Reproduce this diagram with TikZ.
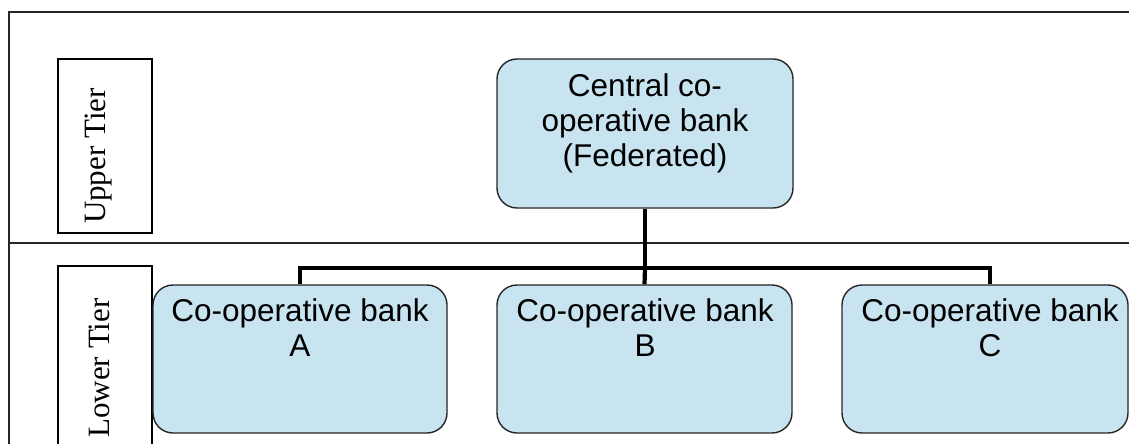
\documentclass[tikz,border=0pt]{standalone}
\usepackage{fontspec}
\setmainfont{Liberation Serif}
\newfontfamily\bankfont{Liberation Sans}
\definecolor{bankfill}{RGB}{200,228,240}
\begin{document}
\begin{tikzpicture}[x=1pt,y=-1pt,
  bank/.style={draw=black!85, line width=1.4pt, fill=bankfill, rounded corners=20pt, inner sep=0pt},
  banktext/.style={font=\bankfont\fontsize{31.5}{35}\selectfont, align=center, inner sep=0pt, anchor=north},
  tierbox/.style={draw, line width=1.4pt, inner sep=0pt},
  tiertext/.style={font=\fontsize{31}{36}\selectfont, rotate=90, inner sep=0pt},
  link/.style={line width=4.2pt},
  framerule/.style={line width=2.2pt, draw=black!85}
]
\useasboundingbox (0,0) rectangle (1129,444);

% outer frame and the tier divider
\begin{scope}
  \clip (0,0) rectangle (1129,444);
  \draw[framerule] (9,470) -- (9,12) -- (1160,12);
  \draw[framerule] (9,243) -- (1160,243);
  \draw[tierbox] (58,266) rectangle (152,470);
\end{scope}

% tier labels
\node[tierbox, minimum width=94pt, minimum height=174pt] (upperbox) at (105,146) {};
\node[tiertext] (upper) at (99,156) {Upper Tier};
\node[tiertext] (lower) at (99,368) {Lower Tier};

% banks
\node[bank, minimum width=296pt, minimum height=149pt] (central) at (645,133.5) {};
\node[bank, minimum width=294pt, minimum height=148pt] (bankA) at (300,359) {};
\node[bank, minimum width=295pt, minimum height=148pt] (bankB) at (644.5,359) {};
\node[bank, minimum width=286pt, minimum height=148pt] (bankC) at (985,359) {};

\node[banktext] (tcentral) at (645,73) {Central co-\\operative bank\\(Federated)};
\node[banktext] (tA) at (300,298) {Co-operative bank\\A};
\node[banktext] (tB) at (645,298) {Co-operative bank\\B};
\node[banktext] (tC) at (990,298) {Co-operative bank\\C};

% connectors
\coordinate (split) at (645,268);
\draw[link] (central.south) -- (split);
\draw[link] (split) -| (bankA.north);
\draw[link] (split) -- (bankB.north);
\draw[link] (split) -| ([xshift=5pt]bankC.north);
\end{tikzpicture}
\end{document}
